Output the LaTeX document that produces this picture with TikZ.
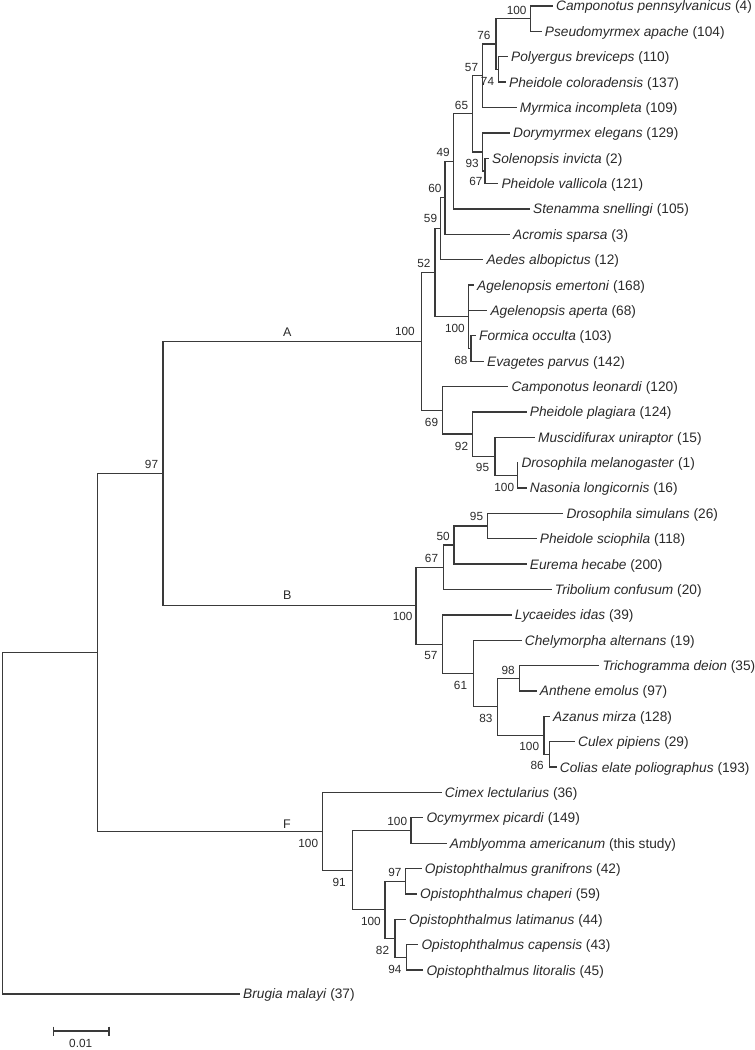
\documentclass[tikz,border=0pt]{standalone}
\usepackage{fontspec}
\setmainfont{Liberation Sans}
\definecolor{lc}{HTML}{3A3A3A}
\definecolor{tc}{HTML}{2A2A2A}
\begin{document}
\begin{tikzpicture}[x=1pt,y=-1pt,
  br/.style={draw=lc,line width=1.25pt},
  leaflab/.style={anchor=base west,inner sep=0pt,xshift=3pt,yshift=-4.9pt,font=\fontsize{13.7}{16}\selectfont,text=tc},
  bs/.style={anchor=east,inner sep=0pt,font=\fontsize{11.8}{14}\selectfont,text=tc},
  clade/.style={inner sep=0pt,font=\fontsize{12.5}{14}\selectfont,text=tc}]
\useasboundingbox (0,0) rectangle (755,1050);
% leaves
\foreach \n/\x/\y/\t in {
 L0/553/6.0/{\textit{Camponotus pennsylvanicus} (4)},
 L1/541.7/31.4/{\textit{Pseudomyrmex apache} (104)},
 L2/508/56.7/{\textit{Polyergus breviceps} (110)},
 L3/506/82.1/{\textit{Pheidole coloradensis} (137)},
 L4/516.7/107.5/{\textit{Myrmica incompleta} (109)},
 L5/510/132.9/{\textit{Dorymyrmex elegans} (129)},
 L6/489/158.2/{\textit{Solenopsis invicta} (2)},
 L7/498.3/183.6/{\textit{Pheidole vallicola} (121)},
 L8/530/209.0/{\textit{Stenamma snellingi} (105)},
 L9/510/234.3/{\textit{Acromis sparsa} (3)},
 L10/483.3/259.7/{\textit{Aedes albopictus} (12)},
 L11/474/285.1/{\textit{Agelenopsis emertoni} (168)},
 L12/487.3/310.4/{\textit{Agelenopsis aperta} (68)},
 L13/476/335.8/{\textit{Formica occulta} (103)},
 L14/484/361.2/{\textit{Evagetes parvus} (142)},
 L15/508.3/386.6/{\textit{Camponotus leonardi} (120)},
 L16/526.7/411.9/{\textit{Pheidole plagiara} (124)},
 L17/535/437.3/{\textit{Muscidifurax uniraptor} (15)},
 L18/518.3/462.7/{\textit{Drosophila melanogaster} (1)},
 L19/526.7/488.0/{\textit{Nasonia longicornis} (16)},
 L20/563.3/513.4/{\textit{Drosophila simulans} (26)},
 L21/536.7/538.8/{\textit{Pheidole sciophila} (118)},
 L22/526.7/564.1/{\textit{Eurema hecabe} (200)},
 L23/551.7/589.5/{\textit{Tribolium confusum} (20)},
 L24/511.7/614.9/{\textit{Lycaeides idas} (39)},
 L25/521.7/640.3/{\textit{Chelymorpha alternans} (19)},
 L26/599.3/665.6/{\textit{Trichogramma deion} (35)},
 L27/536.7/691.0/{\textit{Anthene emolus} (97)},
 L28/550/716.4/{\textit{Azanus mirza} (128)},
 L29/575/741.7/{\textit{Culex pipiens} (29)},
 L30/556.7/767.1/{\textit{Colias elate poliographus} (193)},
 L31/441.7/792.5/{\textit{Cimex lectularius} (36)},
 L32/423.3/817.8/{\textit{Ocymyrmex picardi} (149)},
 L33/446.7/843.2/{\textit{Amblyomma americanum} (this study)},
 L34/421.7/868.6/{\textit{Opistophthalmus granifrons} (42)},
 L35/417/894.0/{\textit{Opistophthalmus chaperi} (59)},
 L36/406/919.3/{\textit{Opistophthalmus latimanus} (44)},
 L37/418.3/944.7/{\textit{Opistophthalmus capensis} (43)},
 L38/423.3/970.1/{\textit{Opistophthalmus litoralis} (45)},
 L39/240/994/{\textit{Brugia malayi} (37)}}
 {\coordinate (\n) at (\x,\y); \node[leaflab] (\n t) at (\n) {\t};}
% internal nodes
\coordinate (N100a) at (530.7,18.7);
\coordinate (N74) at (498.3,69.4);
\coordinate (N76) at (496,44.05);
\coordinate (N57) at (482.7,75.8);
\coordinate (N67) at (485,170.9);
\coordinate (N93) at (482.7,151.9);
\coordinate (N65) at (472.7,113.85);
\coordinate (N49) at (453.3,161.4);
\coordinate (N60) at (445,197.85);
\coordinate (N59) at (440.7,228.8);
\coordinate (N68) at (471,348.5);
\coordinate (N100b) at (468.3,316.8);
\coordinate (N52) at (435,272.8);
\coordinate (N100c) at (517.3,475.35);
\coordinate (N95) at (495,456.3);
\coordinate (N92) at (472.7,434.1);
\coordinate (N69) at (442.7,410.35);
\coordinate (NA) at (421.7,341.6);
\coordinate (N95b) at (487.7,526.1);
\coordinate (N50) at (454,545.1);
\coordinate (N67b) at (443.3,567.3);
\coordinate (N98) at (519.3,678.3);
\coordinate (N86) at (549.3,754.4);
\coordinate (N100d) at (544,735.4);
\coordinate (N83) at (497.3,706.85);
\coordinate (N61) at (473.3,673.6);
\coordinate (N57b) at (442.7,644.25);
\coordinate (NB) at (416,605.8);
\coordinate (N97t) at (163,473.7);
\coordinate (N100e) at (411,830.5);
\coordinate (N97f) at (405.7,881.3);
\coordinate (N94) at (406.7,957.4);
\coordinate (N82) at (395,938.35);
\coordinate (N100f) at (385,909.8);
\coordinate (N91) at (352.3,870.15);
\coordinate (NF) at (322.3,831.3);
\coordinate (N1) at (97.3,652.5);
\coordinate (Root) at (2.7,823.25);
% branches
\foreach \p/\c in {N100a/L0,N100a/L1,N74/L2,N74/L3,N76/N100a,N76/N74,N57/N76,N57/L4,
 N67/L6,N67/L7,N93/L5,N93/N67,N65/N57,N65/N93,N49/N65,N49/L8,N60/N49,N60/L9,
 N59/N60,N59/L10,N68/L13,N68/L14,N100b/L11,N100b/L12,N100b/N68,N52/N59,N52/N100b,
 N100c/L18,N100c/L19,N95/L17,N95/N100c,N92/L16,N92/N95,N69/L15,N69/N92,NA/N52,NA/N69,
 N95b/L20,N95b/L21,N50/N95b,N50/L22,N67b/N50,N67b/L23,N98/L26,N98/L27,N86/L29,N86/L30,
 N100d/L28,N100d/N86,N83/N98,N83/N100d,N61/L25,N61/N83,N57b/L24,N57b/N61,NB/N67b,NB/N57b,
 N97t/NA,N97t/NB,N100e/L32,N100e/L33,N97f/L34,N97f/L35,N94/L37,N94/L38,N82/L36,N82/N94,
 N100f/N97f,N100f/N82,N91/N100e,N91/N100f,NF/L31,NF/N91,N1/N97t,N1/NF,Root/N1,Root/L39}
 {\draw[br] (\p) |- (\c);}
% bootstrap values
\foreach \x/\y/\t [count=\i] in {526.7/10/100,490.7/35/76,494.3/81.7/74,478.3/67/57,468.3/105/65,
 450/152/49,479/163/93,482.7/181.7/67,441.7/188.3/60,437.3/218.7/59,430.7/263.3/52,
 415/331.7/100,465/328.7/100,467.7/360/68,438.3/422.7/69,468.3/446.7/92,489.3/467.3/95,
 514.3/487/100,483.3/516.7/95,450/536.7/50,438.3/558/67,412.7/616.7/100,437.7/655/57,
 467.3/685/61,515/670/98,492.7/718/83,539.3/746.7/100,544/765.3/86,318.3/843.7/100,
 346/882/91,407.3/821.7/100,401.7/872.7/97,381/921.7/100,389.3/950.3/82,401.7/969.7/94,
 158.3/464/97}
 {\node[bs] (b\i) at (\x,\y) {\t};}
% clade letters
\node[clade] (cA) at (287.3,331.7) {A};
\node[clade] (cB) at (287.3,595) {B};
\node[clade] (cF) at (287,823.7) {F};
% scale bar
\coordinate (s1) at (53.3,1031);
\coordinate (s2) at (109,1031);
\draw[br] (s1) -- (s2);
\draw[br] ([yshift=4.5pt]s1) -- ([yshift=-4.5pt]s1);
\draw[br] ([yshift=4.5pt]s2) -- ([yshift=-4.5pt]s2);
\node[bs,anchor=center] (sl) at (80.7,1043.7) {0.01};
\end{tikzpicture}
\end{document}
